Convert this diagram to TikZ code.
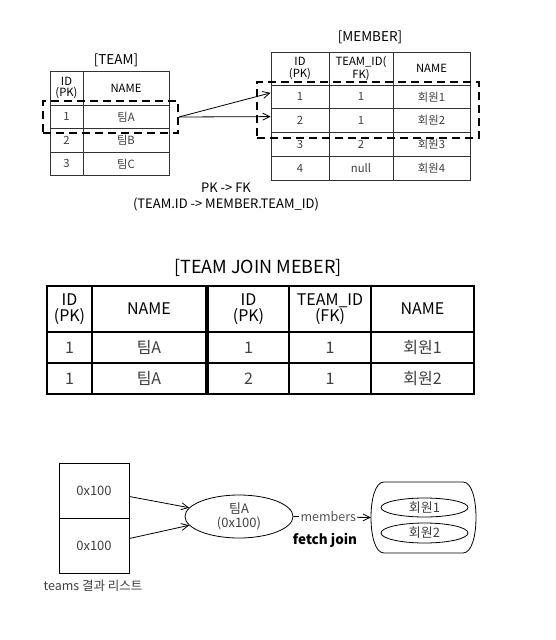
\documentclass[tikz,border=0pt]{standalone}
\usepackage{fontspec}
\setmainfont{Noto Sans CJK KR}
\usetikzlibrary{arrows.meta,calc,shapes.geometric}
\definecolor{linec}{HTML}{333333}
\definecolor{datac}{HTML}{404040}
\definecolor{labc}{HTML}{555555}
\begin{document}
\begin{tikzpicture}[x=1pt,y=-1pt,
  cell/.style={draw=linec, line width=0.9pt, inner sep=0pt, align=center, text=datac, font=\fontsize{11.3}{11.3}\selectfont},
  hcell/.style={cell, text=black},
  bcell/.style={draw=black, line width=1.3pt, inner sep=0pt, align=center, text=datac, font=\fontsize{16}{16}\selectfont},
  bhcell/.style={bcell, text=black},
  dashbox/.style={draw=black, line width=2pt, dash pattern=on 8pt off 5pt, inner sep=0pt},
  ttl/.style={font=\fontsize{13.5}{14}\selectfont, text=black},
  note/.style={font=\fontsize{13}{15.5}\selectfont, align=center, text=black},
  arr/.style={draw=black, line width=0.8pt, -{Straight Barb[length=7pt,width=7pt]}},
  lcell/.style={draw=black, line width=0.8pt, inner sep=0pt, minimum width=70, minimum height=55, text=datac, font=\fontsize{13}{14}\selectfont},
  obj/.style={ellipse, draw=black, line width=0.8pt, inner sep=0pt, align=center, text=datac, font=\fontsize{13}{14}\selectfont},
]
\useasboundingbox[fill=white] (0,0) rectangle (556,640);

% ---------- TEAM table ----------
\node[ttl] (tteam) at (116,60) {[TEAM]};
\node[hcell, minimum width=33, minimum height=34] (t01) at (66.5,88) {ID\\(PK)};
\node[hcell, minimum width=86, minimum height=34] (t02) at (126,88) {NAME};
\node[cell, minimum width=33, minimum height=23.5] (t11) at (66.5,116.75) {1};
\node[cell, minimum width=86, minimum height=23.5] (t12) at (126,116.75) {팀A};
\node[cell, minimum width=33, minimum height=23.5] (t21) at (66.5,140.25) {2};
\node[cell, minimum width=86, minimum height=23.5] (t22) at (126,140.25) {팀B};
\node[cell, minimum width=33, minimum height=23.5] (t31) at (66.5,163.75) {3};
\node[cell, minimum width=86, minimum height=23.5] (t32) at (126,163.75) {팀C};
\node[dashbox, minimum width=135, minimum height=32] (teamsel) at (110.5,117) {};

% ---------- MEMBER table ----------
\node[ttl] (tmember) at (370,37) {[MEMBER]};
\node[hcell, minimum width=58, minimum height=33] (m01) at (300,68.5) {ID\\(PK)};
\node[hcell, minimum width=64, minimum height=33] (m02) at (361,68.5) {TEAM\_ID(\\FK)};
\node[hcell, minimum width=77, minimum height=33] (m03) at (431.5,68.5) {NAME};
\node[cell, minimum width=58, minimum height=23.75] (m11) at (300,96.9) {1};
\node[cell, minimum width=64, minimum height=23.75] (m12) at (361,96.9) {1};
\node[cell, minimum width=77, minimum height=23.75] (m13) at (431.5,96.9) {회원1};
\node[cell, minimum width=58, minimum height=23.75] (m21) at (300,120.6) {2};
\node[cell, minimum width=64, minimum height=23.75] (m22) at (361,120.6) {1};
\node[cell, minimum width=77, minimum height=23.75] (m23) at (431.5,120.6) {회원2};
\node[cell, minimum width=58, minimum height=23.75] (m31) at (300,144.4) {3};
\node[cell, minimum width=64, minimum height=23.75] (m32) at (361,144.4) {2};
\node[cell, minimum width=77, minimum height=23.75] (m33) at (431.5,144.4) {회원3};
\node[cell, minimum width=58, minimum height=23.75] (m41) at (300,168.1) {4};
\node[cell, minimum width=64, minimum height=23.75] (m42) at (361,168.1) {null};
\node[cell, minimum width=77, minimum height=23.75] (m43) at (431.5,168.1) {회원4};
\node[dashbox, minimum width=222, minimum height=56] (memsel) at (368,110) {};

\draw[arr] (teamsel.east) -- ([yshift=4pt]m11.west);
\draw[arr] (teamsel.east) -- ([yshift=4pt]m21.west);

\node[note] (pkfk) at (226,197) {PK -> FK\\(TEAM.ID -> MEMBER.TEAM\_ID)};

% ---------- JOIN table ----------
\node[font=\fontsize{18}{20}\selectfont, text=black] (tjoin) at (258,268) {[TEAM JOIN MEBER]};
\node[bhcell, minimum width=45, minimum height=46] (j01) at (69.5,309) {ID\\(PK)};
\node[bhcell, minimum width=114, minimum height=46] (j02) at (149,309) {NAME};
\node[bhcell, minimum width=81, minimum height=46] (j03) at (248.5,309) {ID\\(PK)};
\node[bhcell, minimum width=82, minimum height=46] (j04) at (330,309) {TEAM\_ID\\(FK)};
\node[bhcell, minimum width=103, minimum height=46] (j05) at (422.5,309) {NAME};
\node[bcell, minimum width=45, minimum height=31] (j11) at (69.5,347.5) {1};
\node[bcell, minimum width=114, minimum height=31] (j12) at (149,347.5) {팀A};
\node[bcell, minimum width=81, minimum height=31] (j13) at (248.5,347.5) {1};
\node[bcell, minimum width=82, minimum height=31] (j14) at (330,347.5) {1};
\node[bcell, minimum width=103, minimum height=31] (j15) at (422.5,347.5) {회원1};
\node[bcell, minimum width=45, minimum height=31] (j21) at (69.5,378.5) {1};
\node[bcell, minimum width=114, minimum height=31] (j22) at (149,378.5) {팀A};
\node[bcell, minimum width=81, minimum height=31] (j23) at (248.5,378.5) {2};
\node[bcell, minimum width=82, minimum height=31] (j24) at (330,378.5) {1};
\node[bcell, minimum width=103, minimum height=31] (j25) at (422.5,378.5) {회원2};

% ---------- object graph ----------
\node[lcell] (l1) at (94,490.5) {0x100};
\node[lcell] (l2) at (94,545.5) {0x100};
\node[font=\fontsize{12.5}{13}\selectfont, text=datac] (lcap) at (93,586) {teams 결과 리스트};
\node[obj, minimum width=108, minimum height=43] (teamA) at (239,516.5) {팀A\\(0x100)};
\draw[arr] ([yshift=-6pt]l1.east) -- (teamA.170);
\draw[arr] ([yshift=7pt]l2.east) -- (teamA.190);

\node[draw=none, minimum width=105, minimum height=71, inner sep=0pt] (memset) at (423.5,517.5) {};
\draw[black, line width=0.8pt] (384,482) -- (463,482) .. controls (472,482) and (476,500) .. (476,517.5)
  .. controls (476,535) and (472,553) .. (463,553) -- (384,553)
  .. controls (375,553) and (371,535) .. (371,517.5)
  .. controls (371,500) and (375,482) .. (384,482) -- cycle;
\node[obj, minimum width=87, minimum height=19] (mem1) at (424.5,507.5) {회원1};
\node[obj, minimum width=87, minimum height=20] (mem2) at (424.5,533) {회원2};

\draw[arr] (teamA.east) -- node[pos=0.45, fill=white, inner sep=1.5pt, text=labc, font=\fontsize{12.5}{13}\selectfont] (memlab) {members} (memset.west);
\node[font=\bfseries\fontsize{13.5}{14}\selectfont, text=black] (fj) at (325,540) {fetch join};
\end{tikzpicture}
\end{document}
